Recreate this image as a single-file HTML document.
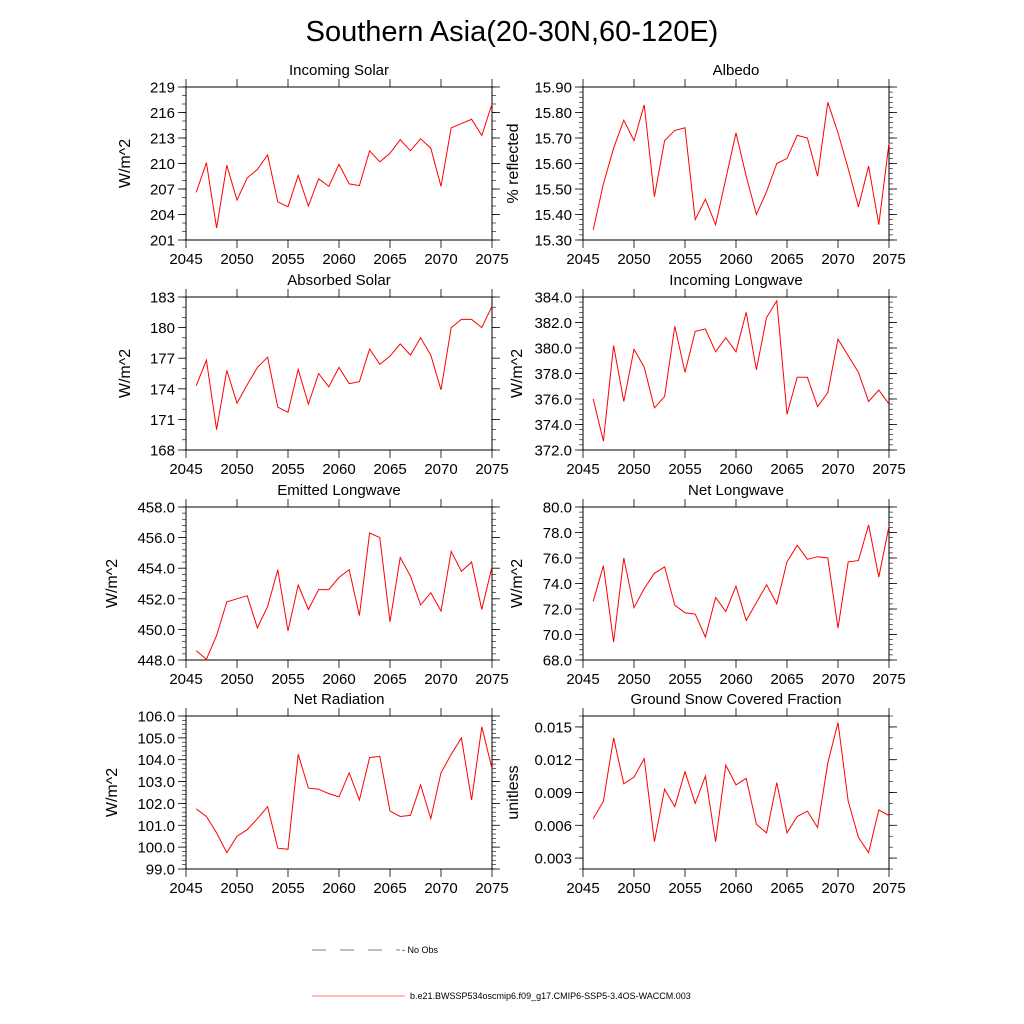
<!DOCTYPE html>
<html><head><meta charset="utf-8">
<style>
body{margin:0;background:#fff;}
svg{display:block;font-family:"Liberation Sans",sans-serif;}
</style></head>
<body>
<svg id="chart" width="1024" height="1024" viewBox="0 0 1024 1024" xmlns="http://www.w3.org/2000/svg">
<rect width="1024" height="1024" fill="#fff"/>
<text x="512" y="41" font-size="29" text-anchor="middle">Southern Asia(20-30N,60-120E)</text>
<g id="panels"></g>
<g>
<line x1="312" y1="950" x2="400" y2="950" stroke="#000" stroke-width="0.5" stroke-dasharray="14,14"/>
<text x="402" y="953" font-size="9">- No Obs</text>
<line x1="312" y1="996" x2="405" y2="996" stroke="#f00" stroke-width="0.6"/>
<text x="410" y="999" font-size="9">b.e21.BWSSP534oscmip6.f09_g17.CMIP6-SSP5-3.4OS-WACCM.003</text>
</g>
</svg>
<script>
const years = [2046,2047,2048,2049,2050,2051,2052,2053,2054,2055,2056,2057,2058,2059,2060,2061,2062,2063,2064,2065,2066,2067,2068,2069,2070,2071,2072,2073,2074,2075];
const incomingSolar = [206.6,210.1,202.4,209.8,205.7,208.3,209.3,211.0,205.5,204.9,208.6,205.0,208.2,207.3,209.9,207.6,207.4,211.5,210.2,211.2,212.8,211.5,212.9,211.8,207.3,214.2,214.7,215.2,213.3,217.0];
const albedo = [15.34,15.52,15.66,15.77,15.69,15.83,15.47,15.69,15.73,15.74,15.38,15.46,15.36,15.54,15.72,15.55,15.40,15.49,15.60,15.62,15.71,15.70,15.55,15.84,15.72,15.58,15.43,15.59,15.36,15.68];
const absorbedSolar = [174.3,176.8,170.0,175.8,172.6,174.4,176.1,177.1,172.2,171.7,175.9,172.5,175.5,174.2,176.1,174.5,174.7,177.9,176.4,177.2,178.4,177.3,179.0,177.3,173.9,180.0,180.8,180.8,180.0,182.1];
const incomingLW = [376.0,372.7,380.2,375.8,379.9,378.5,375.3,376.2,381.7,378.1,381.3,381.5,379.7,380.8,379.7,382.8,378.3,382.4,383.7,374.8,377.7,377.7,375.4,376.5,380.7,379.4,378.1,375.8,376.7,375.6];
const emittedLW = [448.6,448.05,449.6,451.8,452.0,452.2,450.1,451.5,453.9,449.9,452.9,451.3,452.6,452.6,453.4,453.9,450.9,456.3,456.0,450.5,454.7,453.5,451.6,452.4,451.2,455.1,453.8,454.4,451.3,454.1];
const netLW = [72.6,75.4,69.4,76.0,72.1,73.6,74.8,75.3,72.3,71.7,71.6,69.8,72.9,71.8,73.8,71.1,72.5,73.9,72.4,75.7,77.0,75.9,76.1,76.0,70.5,75.7,75.8,78.6,74.5,78.5];
const netRad = [101.75,101.4,100.65,99.75,100.5,100.8,101.3,101.85,99.95,99.9,104.25,102.7,102.65,102.45,102.3,103.4,102.15,104.1,104.15,101.65,101.4,101.45,102.85,101.3,103.4,104.25,105.0,102.15,105.5,103.6];
const snowFrac = [0.0066,0.0082,0.0140,0.0098,0.0104,0.0121,0.0045,0.0093,0.0077,0.0109,0.0080,0.0105,0.0045,0.0115,0.0097,0.0103,0.0061,0.0053,0.0099,0.0053,0.0068,0.0073,0.0058,0.0117,0.0154,0.0082,0.0049,0.0035,0.0074,0.0069];
const xTicks = [2045,2050,2055,2060,2065,2070,2075];

const NS="http://www.w3.org/2000/svg";
const root=document.getElementById('panels');
function mk(tag,attrs,parent){const e=document.createElementNS(NS,tag);for(const k in attrs)e.setAttribute(k,attrs[k]);parent.appendChild(e);return e;}

const panels=[
 {id:'incoming-solar',title:'Incoming Solar',ylab:'W/m^2',data:incomingSolar,ymin:201,ymax:219,major:3,minor:1,dec:0,x:186,y:87},
 {id:'albedo',title:'Albedo',ylab:'% reflected',data:albedo,ymin:15.3,ymax:15.9,major:0.1,minor:0.02,dec:2,x:583,y:87},
 {id:'absorbed-solar',title:'Absorbed Solar',ylab:'W/m^2',data:absorbedSolar,ymin:168,ymax:183,major:3,minor:1,dec:0,x:186,y:297},
 {id:'incoming-longwave',title:'Incoming Longwave',ylab:'W/m^2',data:incomingLW,ymin:372,ymax:384,major:2,minor:0.4,dec:1,x:583,y:297},
 {id:'emitted-longwave',title:'Emitted Longwave',ylab:'W/m^2',data:emittedLW,ymin:448,ymax:458,major:2,minor:0.4,dec:1,x:186,y:507},
 {id:'net-longwave',title:'Net Longwave',ylab:'W/m^2',data:netLW,ymin:68,ymax:80,major:2,minor:0.4,dec:1,x:583,y:507},
 {id:'net-radiation',title:'Net Radiation',ylab:'W/m^2',data:netRad,ymin:99,ymax:106,major:1,minor:0.2,dec:1,x:186,y:716},
 {id:'snow-fraction',title:'Ground Snow Covered Fraction',ylab:'unitless',data:snowFrac,ymin:0.002,ymax:0.016,major:0.003,minor:0.001,dec:3,x:583,y:716,first:0.003}
];
const W=306,H=153;
panels.forEach(p=>{
 const g=mk('g',{},root);
 
 
 const xs=v=>p.x+(v-2045)/30*W;
 const ys=v=>p.y+H-(v-p.ymin)/(p.ymax-p.ymin)*H;
 const nMin=Math.round((p.ymax-p.ymin)/p.minor);
 for(let i=0;i<=nMin;i++){const v=p.ymin+i*p.minor;const y=ys(v);
  mk('line',{x1:p.x-4,y1:y,x2:p.x,y2:y,stroke:'#000','stroke-width':0.6},g);
  mk('line',{x1:p.x+W,y1:y,x2:p.x+W+4,y2:y,stroke:'#000','stroke-width':0.6},g);}
 const start=p.first!==undefined?p.first:p.ymin;
 for(let v=start;v<=p.ymax+1e-9;v+=p.major){const y=ys(v);
  mk('line',{x1:p.x-8,y1:y,x2:p.x,y2:y,stroke:'#000','stroke-width':0.8},g);
  mk('line',{x1:p.x+W,y1:y,x2:p.x+W+8,y2:y,stroke:'#000','stroke-width':0.8},g);
  const t=mk('text',{x:p.x-11,y:y+5.5,'font-size':15,'text-anchor':'end'},g);
  t.textContent=v.toFixed(p.dec);
  
  }
 xTicks.forEach(v=>{const x=xs(v);
  mk('line',{x1:x,y1:p.y+H,x2:x,y2:p.y+H+8,stroke:'#000','stroke-width':0.8},g);
  mk('line',{x1:x,y1:p.y-8,x2:x,y2:p.y,stroke:'#000','stroke-width':0.8},g);
  const t=mk('text',{x:x,y:p.y+H+24,'font-size':15,'text-anchor':'middle'},g);
  t.textContent=v;
  
  });
 const fr=mk('rect',{x:p.x,y:p.y,width:W,height:H,fill:'none',stroke:'#000','stroke-width':1},g);
 
 
 const tt=mk('text',{x:p.x+W/2,y:p.y-12,'font-size':15,'text-anchor':'middle'},g);
 tt.textContent=p.title;
 
 
 const lw=p.dec===0?35:(p.dec===1?48:52);
 const shift=p.x>400?8:0;
 const lx=p.x-11-lw-10+shift, ly=p.y+H/2;
 const yl=mk('text',{x:lx,y:ly,'font-size':16,'text-anchor':'middle',transform:`rotate(-90 ${lx} ${ly})`},g);
 yl.textContent=p.ylab;
 
 
 const pts=p.data.map((v,i)=>xs(years[i]).toFixed(1)+','+ys(v).toFixed(1)).join(' ');
 const pl=mk('polyline',{points:pts,fill:'none',stroke:'#f00','stroke-width':1},g);
 
 
});
</script>
</body></html>
